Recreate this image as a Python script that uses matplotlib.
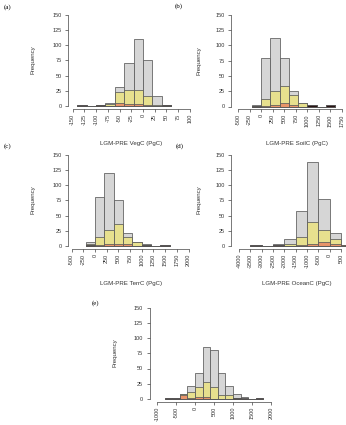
#!/usr/bin/env python3
"""
Histograms of LGM-PRE carbon changes (five panels, R-style layout)
"""

import numpy as np
import matplotlib
matplotlib.use('Agg')
import matplotlib.pyplot as plt

# --- data: bin edges and counts ---
veg_edges = [-140, -120, -100, -80, -60, -40, -20, 0, 20, 40, 60]
veg_all = [1, 0, 2, 5, 32, 71, 110, 75, 16, 2]
veg_mid = [0, 0, 2, 4, 23, 26, 27, 16, 2, 1]
veg_low = [0, 0, 1, 0, 5, 3, 3, 1, 0, 0]
veg_dark = [1, 0, 1, 0, 0, 0, 0, 0, 0, 1]

soil_edges = [-200, 0, 200, 400, 600, 800, 1000, 1200, 1400, 1600]
soil_all = [3, 80, 112, 80, 26, 6, 2, 0, 2]
soil_mid = [1, 12, 25, 34, 19, 6, 1, 0, 0]
soil_low = [0, 1, 3, 6, 3, 0, 0, 0, 0]
soil_dark = [1, 0, 0, 0, 0, 0, 2, 0, 2]

terr_edges = [-200, 0, 200, 400, 600, 800, 1000, 1200, 1400, 1600]
terr_all = [7, 81, 120, 75, 21, 6, 3, 0, 1]
terr_mid = [3, 14, 27, 36, 15, 6, 1, 0, 0]
terr_low = [1, 1, 4, 4, 3, 0, 0, 0, 0]
terr_dark = [1, 0, 0, 0, 0, 0, 2, 0, 1]

ocean_edges = [-3500, -3000, -2500, -2000, -1500, -1000, -500, 0, 500, 1000]
ocean_all = [1, 0, 3, 12, 58, 138, 78, 22, 2]
ocean_mid = [0, 0, 2, 4, 15, 39, 27, 12, 1]
ocean_low = [0, 0, 1, 0, 1, 3, 6, 3, 1]
ocean_dark = [1, 0, 2, 0, 0, 0, 0, 0, 0]

tot_edges = [-800, -600, -400, -200, 0, 200, 400, 600, 800, 1000, 1200, 1400, 1600, 1800]
tot_all = [1, 1, 9, 21, 42, 86, 80, 42, 22, 8, 3, 0, 1]
tot_mid = [0, 0, 8, 12, 19, 28, 19, 7, 7, 2, 0, 0, 0]
tot_low = [0, 0, 6, 2, 4, 3, 0, 0, 0, 0, 0, 0, 0]
tot_dark = [1, 1, 0, 0, 0, 0, 0, 0, 0, 1, 2, 0, 1]

W, H = 346, 425
SANS = ['Liberation Sans', 'DejaVu Sans']
SERIF = ['Liberation Serif', 'DejaVu Serif']

GRAY = '#d6d6d6'
YELLOW = '#e7e08e'
ORANGE = '#e8946a'
DARK = '#2a1414'
EDGE = '#5a5a5a'


def make_panel(fig, spec):
    """Place one histogram panel using pixel measurements of the reference."""
    left, y150, y0 = spec['left'], spec['y150'], spec['y0']
    t0, t0_px, ppu = spec['tick0'], spec['tick0_px'], spec['ppu']
    width = 126
    top, bottom = y150 - 3, y0 + 2.5
    ax = fig.add_axes([left / W, 1 - bottom / H, width / W, (bottom - top) / H])

    xmin = t0 - (t0_px - left) / ppu
    ax.set_xlim(xmin, xmin + width / ppu)
    ppy = (y0 - y150) / 150
    ax.set_ylim(-2.5 / ppy, 150 + 3 / ppy)

    edges = np.array(spec['edges'], dtype=float)
    widths = np.diff(edges)
    layers = [(spec['all'], GRAY), (spec['mid'], YELLOW),
              (spec['low'], ORANGE), (spec['dark'], DARK)]
    for counts, col in layers:
        ax.bar(edges[:-1], counts, width=widths, align='edge', color=col,
               edgecolor=EDGE, linewidth=0.55)

    ticks = spec['ticks']
    ax.set_xticks(ticks)
    ax.set_xticklabels([str(t) for t in ticks], rotation=90, fontsize=4,
                       family=SANS, color='#333333')
    ax.set_yticks([0, 25, 50, 75, 100, 125, 150])
    ax.set_yticklabels(['0', '25', '50', '75', '100', '125', '150'],
                       fontsize=4, family=SANS, color='#333333')
    ax.tick_params(axis='both', length=2.2, width=0.5, color='#444444', pad=1.5)
    ax.tick_params(axis='y', pad=2.5)

    for side in ['top', 'right']:
        ax.spines[side].set_visible(False)
    ax.spines['left'].set_bounds(0, 150)
    ax.spines['bottom'].set_bounds(ticks[0], ticks[-1])
    for side in ['left', 'bottom']:
        ax.spines[side].set_linewidth(0.5)
        ax.spines[side].set_color('#444444')

    ax.set_ylabel('Frequency', fontsize=4.4, family=SANS, color='#333333')
    ax.yaxis.set_label_coords(-(left - spec['ylab_x']) / width, 0.5)
    if spec['xlabel']:
        ax.set_xlabel(spec['xlabel'], fontsize=4.4, family=SANS, color='#333333')
        ax.xaxis.set_label_coords((spec['xlab'][0] - left) / width,
                                  -(spec['xlab'][1] - bottom) / (bottom - top))
        ax.xaxis.label.set_va('center')
    ax.set_facecolor('none')

    fig.text(spec['letter'][0] / W, 1 - spec['letter'][1] / H, spec['tag'],
             fontsize=5, family=SERIF, ha='left', va='center')
    return ax


def main():
    fig = plt.figure(figsize=(W / 100, H / 100), dpi=100)
    fig.patch.set_facecolor('white')

    panels = [
        dict(tag='(a)', letter=(4, 7), left=68, y150=14.7, y0=106,
             tick0=-150, tick0_px=72.7, ppu=11.7 / 25,
             ticks=list(range(-150, 101, 25)),
             edges=veg_edges, all=veg_all, mid=veg_mid, low=veg_low, dark=veg_dark,
             xlabel='LGM-PRE VegC (PgC)', xlab=(131, 143), ylab_x=36),
        dict(tag='(b)', letter=(175, 6), left=231, y150=14.7, y0=106.5,
             tick0=-500, tick0_px=238, ppu=11.56 / 250,
             ticks=list(range(-500, 1751, 250)),
             edges=soil_edges, all=soil_all, mid=soil_mid, low=soil_low, dark=soil_dark,
             xlabel='LGM-PRE SoilC (PgC)', xlab=(297, 143), ylab_x=202),
        dict(tag='(c)', letter=(4, 146), left=68, y150=154.7, y0=246,
             tick0=-500, tick0_px=71.5, ppu=11.7 / 250,
             ticks=list(range(-500, 2001, 250)),
             edges=terr_edges, all=terr_all, mid=terr_mid, low=terr_low, dark=terr_dark,
             xlabel='LGM-PRE TerrC (PgC)', xlab=(131.5, 283), ylab_x=36),
        dict(tag='(d)', letter=(176, 146), left=231, y150=154.7, y0=246,
             tick0=-4000, tick0_px=239, ppu=11.33 / 500,
             ticks=list(range(-4000, 501, 500)),
             edges=ocean_edges, all=ocean_all, mid=ocean_mid, low=ocean_low, dark=ocean_dark,
             xlabel='LGM-PRE OceanC (PgC)', xlab=(297, 283), ylab_x=202),
        dict(tag='(e)', letter=(92, 303), left=149.5, y150=307.5, y0=399,
             tick0=-1000, tick0_px=157, ppu=19 / 500,
             ticks=list(range(-1000, 2001, 500)),
             edges=tot_edges, all=tot_all, mid=tot_mid, low=tot_low, dark=tot_dark,
             xlabel=None, xlab=None, ylab_x=118),
    ]
    for spec in panels:
        make_panel(fig, spec)

    fig.savefig('out.png', dpi=100)


if __name__ == '__main__':
    main()
